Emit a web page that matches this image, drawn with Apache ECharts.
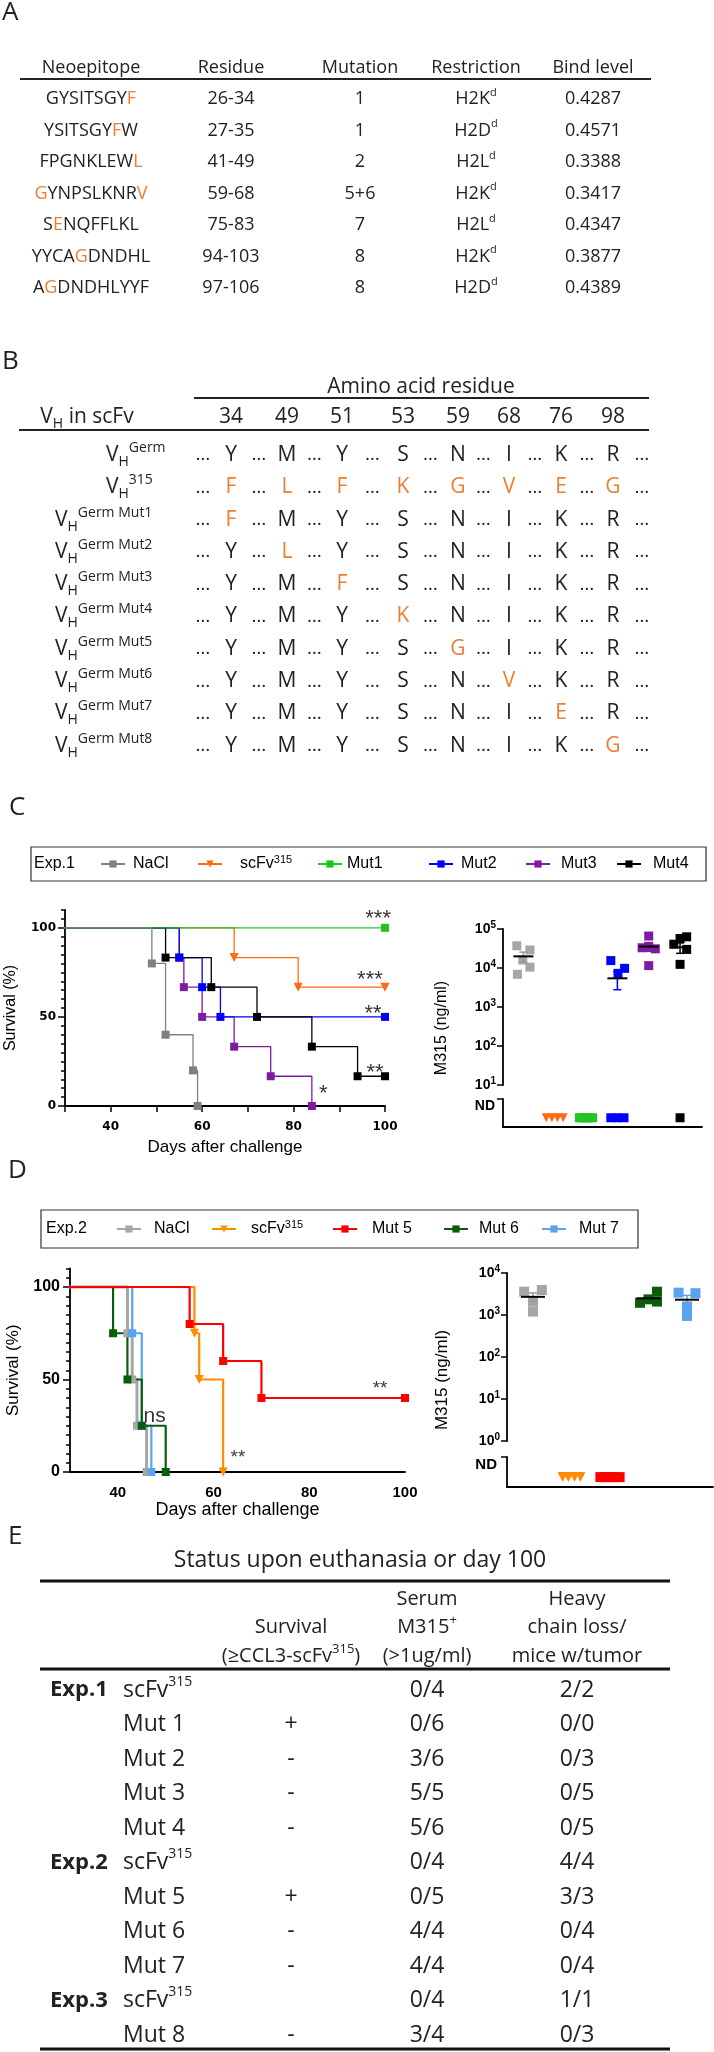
<!DOCTYPE html>
<html>
<head>
<meta charset="utf-8">
<script src="https://cdn.jsdelivr.net/npm/echarts@6.0.0/dist/echarts.min.js"></script>
<style>
html,body{margin:0;padding:0;background:#fff;}
#chart{width:714px;height:2052px;}
</style>
</head>
<body>
<div id="chart"></div>
<script>
// ===================== DATA =====================
// Panel A – neoepitopes
const neoHeaders = ['Neoepitope', 'Residue', 'Mutation', 'Restriction', 'Bind level'];
const neoSequences = ['GYSITSGYF', 'YSITSGYFW', 'FPGNKLEWL', 'GYNPSLKNRV', 'SENQFFLKL', 'YYCAGDNDHL', 'AGDNDHLYYF'];
const neoMutatedPositions = [[8], [7], [8], [0, 9], [1], [4], [1]];
const neoResidues = ['26-34', '27-35', '41-49', '59-68', '75-83', '94-103', '97-106'];
const neoMutations = ['1', '1', '2', '5+6', '7', '8', '8'];
const neoRestrictions = ['H2K', 'H2D', 'H2L', 'H2K', 'H2L', 'H2K', 'H2D'];
const neoRestrictionSup = 'd';
const neoBindLevels = [0.4287, 0.4571, 0.3388, 0.3417, 0.4347, 0.3877, 0.4389];

// Panel B – amino acid residues
const aaResidues = [34, 49, 51, 53, 59, 68, 76, 98];
const aaGerm = ['Y', 'M', 'Y', 'S', 'N', 'I', 'K', 'R'];
const aa315 = ['F', 'L', 'F', 'K', 'G', 'V', 'E', 'G'];
const vhLabels = ['Germ', '315', 'Germ Mut1', 'Germ Mut2', 'Germ Mut3', 'Germ Mut4', 'Germ Mut5', 'Germ Mut6', 'Germ Mut7', 'Germ Mut8'];
const vhMutated = [[], [0, 1, 2, 3, 4, 5, 6, 7], [0], [1], [2], [3], [4], [5], [6], [7]];

// Panel C – Exp.1 survival (day of event, % surviving after event)
const exp1NaClDays = [49, 52, 58, 59];        const exp1NaClSurv = [80, 40, 20, 0];
const exp1ScfvDays = [67, 81, 100];           const exp1ScfvSurv = [83.3, 66.7, 66.7];
const exp1Mut1Days = [100];                   const exp1Mut1Surv = [100];
const exp1Mut2Days = [55, 60, 64, 100];       const exp1Mut2Surv = [83.3, 66.7, 50, 50];
const exp1Mut3Days = [55, 56, 60, 67, 75, 84]; const exp1Mut3Surv = [83.3, 66.7, 50, 33.3, 16.7, 0];
const exp1Mut4Days = [52, 62, 72, 84, 94, 100]; const exp1Mut4Surv = [83.3, 66.7, 50, 33.3, 16.7, 16.7];
const exp1SigText = ['***', '***', '**', '**', '*'];
const exp1SigDay = [98.5, 96.7, 97.4, 97.8, 86.5];
const exp1SigSurv = [109, 74.7, 55.6, 22.5, 10.7];

// Panel C – Exp.1 serum M315 (ng/ml, 0 = not detected) and horizontal jitter
const exp1Groups = ['NaCl', 'scFv315', 'Mut1', 'Mut2', 'Mut3', 'Mut4'];
const exp1SerumNaCl = [37000, 29000, 16000, 10500, 6900];   const exp1JitNaCl = [-0.21, 0.21, -0.02, 0.21, -0.19];
const exp1SerumScfv = [0, 0, 0, 0];                          const exp1JitScfv = [-0.27, -0.09, 0.09, 0.27];
const exp1SerumMut1 = [0, 0, 0, 0, 0, 0];                    const exp1JitMut1 = [-0.21, -0.13, -0.04, 0.04, 0.13, 0.21];
const exp1SerumMut2 = [15500, 7300, 9800, 0, 0, 0];          const exp1JitMut2 = [-0.21, 0.02, 0.23, -0.21, 0, 0.21];
const exp1SerumMut3 = [66000, 33000, 31000, 36000, 11500];   const exp1JitMut3 = [0, -0.21, 0.21, 0, 0];
const exp1SerumMut4 = [63000, 57000, 40800, 30000, 12400, 0]; const exp1JitMut4 = [0.21, 0, -0.2, 0.21, 0, 0];

// Panel D – Exp.2 survival
const exp2NaClDays = [42, 43, 44, 46];   const exp2NaClSurv = [75, 50, 25, 0];
const exp2ScfvDays = [56, 57, 62];       const exp2ScfvSurv = [75, 50, 0];
const exp2Mut5Days = [55, 62, 70, 100];  const exp2Mut5Surv = [80, 60, 40, 40];
const exp2Mut6Days = [39, 42, 45, 50];   const exp2Mut6Surv = [75, 50, 25, 0];
const exp2Mut7Days = [43, 45, 47];       const exp2Mut7Surv = [75, 25, 0];
const exp2SigText = ['ns', '**', '**'];
const exp2SigDay = [47.7, 65.1, 94.8];
const exp2SigSurv = [30.2, 10.8, 48];

// Panel D – Exp.2 serum M315
const exp2Groups = ['NaCl', 'scFv315', 'Mut 5', 'Mut 6', 'Mut 7'];
const exp2SerumNaCl = [3590, 3940, 2090, 1210]; const exp2JitNaCl = [-0.23, 0.23, 0, 0];
const exp2SerumScfv = [0, 0, 0, 0];             const exp2JitScfv = [-0.23, -0.08, 0.08, 0.23];
const exp2SerumMut5 = [0, 0, 0, 0, 0];          const exp2JitMut5 = [-0.25, -0.12, 0, 0.12, 0.25];
const exp2SerumMut6 = [1950, 2360, 3590, 2090]; const exp2JitMut6 = [-0.22, 0, 0.22, 0.22];
const exp2SerumMut7 = [3400, 3300, 1600, 950];  const exp2JitMut7 = [-0.22, 0.22, 0, 0];

// Panel E – status table
const statusExp = ['Exp.1', '', '', '', '', 'Exp.2', '', '', '', 'Exp.3', ''];
const statusGroup = ['scFv315', 'Mut 1', 'Mut 2', 'Mut 3', 'Mut 4', 'scFv315', 'Mut 5', 'Mut 6', 'Mut 7', 'scFv315', 'Mut 8'];
const statusSurvival = ['', '+', '-', '-', '-', '', '+', '-', '-', '', '-'];
const statusSerum = ['0/4', '0/6', '3/6', '5/5', '5/6', '0/4', '0/5', '4/4', '4/4', '0/4', '3/4'];
const statusHeavy = ['2/2', '0/0', '0/3', '0/5', '0/5', '4/4', '3/3', '0/4', '0/4', '1/1', '0/3'];

// ===================== STYLE =====================
const OPEN = "'Open Sans', sans-serif";
const ARIAL = "'Liberation Sans', Arial, sans-serif";
const TXT = '#222';
const ORANGE = '#ED7D31';
const colC = {NaCl: '#808080', scfv: '#FF6A13', mut1: '#22C422', mut2: '#0000FF', mut3: '#7D1D9E', mut4: '#000000', naclDot: '#A6A6A6'};
const colD = {NaCl: '#A6A6A6', scfv: '#FF8C00', mut5: '#FF0000', mut6: '#0B5D0B', mut7: '#5AA3F0'};

const G = [];
function T(x, y, t, size, opt) {
  opt = opt || {};
  const st = {
    text: t, fontSize: size, fontFamily: opt.family || OPEN, fontWeight: opt.weight || 'normal',
    fill: opt.fill || TXT, align: opt.align || 'center', verticalAlign: 'middle',
    lineHeight: opt.lh || Math.round(size * 1.35)
  };
  if (opt.rich) st.rich = opt.rich;
  G.push({type: 'text', x: x, y: y, silent: true, z: 100, rotation: opt.rotation || 0, style: st});
}
function L(x1, y1, x2, y2, w, c) {
  G.push({type: 'line', silent: true, z: 100, shape: {x1: x1, y1: y1, x2: x2, y2: y2}, style: {stroke: c || '#222', lineWidth: w}});
}
function R(x, y, w, h) {
  G.push({type: 'rect', silent: true, z: 100, shape: {x: x, y: y, width: w, height: h}, style: {fill: 'none', stroke: '#333', lineWidth: 1.2}});
}
function tok(size, extra) {
  return Object.assign({fontSize: size, fontFamily: OPEN, fill: TXT, color: TXT}, extra || {});
}

// ---------- Panel letters ----------
T(2, 13, 'A', 26, {align: 'left'});
T(2, 362, 'B', 26, {align: 'left'});
T(9, 808, 'C', 26, {align: 'left'});
T(8, 1171, 'D', 26, {align: 'left'});
T(8, 1537, 'E', 26, {align: 'left'});

// ---------- Panel A ----------
const colA = [91, 231, 360, 476, 593];
const richA = {
  o: tok(18, {fill: ORANGE, color: ORANGE}),
  s: tok(11, {verticalAlign: 'top', lineHeight: 11})
};
neoHeaders.forEach((h, j) => T(colA[j], 68, h, 18));
L(20, 79, 651, 79, 2);
neoSequences.forEach((seq, i) => {
  const y = 99 + i * 31.5;
  const s = seq.split('').map((ch, k) => neoMutatedPositions[i].indexOf(k) >= 0 ? '{o|' + ch + '}' : ch).join('');
  T(colA[0], y, s, 18, {rich: richA, lh: 24});
  T(colA[1], y, neoResidues[i], 18);
  T(colA[2], y, neoMutations[i], 18);
  T(colA[3], y, neoRestrictions[i] + '{s|' + neoRestrictionSup + '}', 18, {rich: richA, lh: 24});
  T(colA[4], y, neoBindLevels[i].toFixed(4), 18);
});

// ---------- Panel B ----------
const colB = [231, 287, 342, 403, 458, 509, 561, 613];
const ellB = [colB[0] - 28].concat(colB.slice(1).map((x, j) => (x + colB[j]) / 2)).concat([colB[7] + 29]);
const richB = {
  h: tok(14, {verticalAlign: 'bottom', lineHeight: 12}),
  g: tok(14, {verticalAlign: 'top', lineHeight: 16})
};
T(421, 387, 'Amino acid residue', 21);
L(194, 398, 649, 398, 2);
T(87, 417, 'V{h|H} in scFv', 21, {rich: richB, lh: 28});
aaResidues.forEach((r, j) => T(colB[j], 417, String(r), 21));
L(19, 430, 649, 430, 2);
vhLabels.forEach((lab, i) => {
  const y = 455 + i * 32.3;
  T(i < 2 ? 106 : 55, y, 'V{h|H}{g|' + lab + '}', 21, {rich: richB, lh: 28, align: 'left'});
  aaGerm.forEach((g, j) => {
    const mut = vhMutated[i].indexOf(j) >= 0;
    T(colB[j], y, mut ? aa315[j] : g, 21, {fill: mut ? ORANGE : TXT});
  });
  ellB.forEach(x => T(x, y, '\u2026', 19));
});

// ---------- Panel E ----------
const richE = {s: tok(14, {verticalAlign: 'top', lineHeight: 14})};
const richEh = {s: tok(13, {verticalAlign: 'top', lineHeight: 13})};
T(360, 1560, 'Status upon euthanasia or day 100', 23);
L(40, 1581, 670, 1581, 3, '#111');
T(427, 1599, 'Serum', 20);
T(577, 1599, 'Heavy', 20);
T(291, 1627, 'Survival', 20);
T(427, 1627, 'M315{s|+}', 20, {rich: richEh, lh: 26});
T(577, 1627, 'chain loss/', 20);
T(291, 1656, '(\u2265CCL3-scFv{s|315})', 20, {rich: richEh, lh: 26});
T(427, 1656, '(>1ug/ml)', 20);
T(577, 1656, 'mice w/tumor', 20);
L(40, 1669, 670, 1669, 3, '#111');
statusGroup.forEach((g, i) => {
  const y = 1690 + i * 34.5;
  if (statusExp[i]) T(50, y, statusExp[i], 22, {align: 'left', weight: 'bold'});
  const gl = g === 'scFv315' ? 'scFv{s|315}' : g;
  T(123, y, gl, 23, {align: 'left', rich: richE, lh: 30});
  if (statusSurvival[i]) T(291, y, statusSurvival[i], 23);
  T(427, y, statusSerum[i], 23);
  T(577, y, statusHeavy[i], 23);
});
L(40, 2049, 670, 2049, 3, '#111');

// ---------- Legend boxes ----------
R(31, 847, 675, 34);
T(34, 864, 'Exp.1', 16, {align: 'left', family: ARIAL, fill: '#000'});
R(41, 1210, 597, 38);
T(46, 1229, 'Exp.2', 16, {align: 'left', family: ARIAL, fill: '#000'});

// ===================== CHART HELPERS =====================
function km(name, days, surv, color, tri, xi, yi, lw, size) {
  const data = [{value: [0, 100], symbol: 'none'}].concat(days.map((d, i) => [d, surv[i]]));
  return {
    type: 'line', name: name, xAxisIndex: xi, yAxisIndex: yi, step: 'end', data: data,
    symbol: tri ? 'triangle' : 'rect', symbolRotate: tri ? 180 : 0, symbolSize: size,
    showSymbol: true, showAllSymbol: true, clip: true,
    lineStyle: {color: color, width: lw}, itemStyle: {color: color},
    emphasis: {disabled: true}, silent: true
  };
}
const ND_LEVEL = 0.33;
function serum(key, values, jit, pos, color, tri, ux, uy, lx, ly, size) {
  const up = [], lo = [];
  values.forEach((v, i) => {
    if (v > 0) up.push([pos + jit[i], Math.log10(v)]);
    else lo.push([pos + jit[i], ND_LEVEL]);
  });
  const base = {type: 'scatter', symbol: tri ? 'triangle' : 'rect', symbolRotate: tri ? 180 : 0,
    symbolSize: size, itemStyle: {color: color, opacity: 1}, z: 3, silent: true, emphasis: {disabled: true}};
  return [
    Object.assign({}, base, {name: 'pts-up-' + key, xAxisIndex: ux, yAxisIndex: uy, data: up}),
    Object.assign({}, base, {name: 'pts-nd-' + key, xAxisIndex: lx, yAxisIndex: ly, data: lo})
  ];
}
function meanSem(vals) {
  const n = vals.length;
  const m = vals.reduce((a, b) => a + b, 0) / n;
  const sd = Math.sqrt(vals.reduce((a, b) => a + (b - m) * (b - m), 0) / (n - 1));
  return [m, sd / Math.sqrt(n)];
}
function statSeries(key, groups, colors, ux, uy, lx, ly, axisMin, half) {
  const upData = [], ndData = [];
  groups.forEach((vals, g) => {
    const ms = meanSem(vals);
    const pos = g + 1;
    if (ms[0] > 0) {
      const lowV = ms[0] - ms[1] > 0 ? Math.log10(ms[0] - ms[1]) : axisMin;
      upData.push({value: [pos, Math.log10(ms[0]), Math.log10(ms[0] + ms[1]), lowV], itemStyle: {color: colors[g]}});
    } else {
      ndData.push([pos, ND_LEVEL]);
    }
  });
  return [
    {type: 'custom', name: 'mean-' + key, xAxisIndex: ux, yAxisIndex: uy, z: 4, silent: true, data: upData,
      renderItem: function (params, api) {
        const x = api.value(0);
        const c = api.coord([x, api.value(1)]);
        const hi = api.coord([x, api.value(2)]);
        const lo = api.coord([x, api.value(3)]);
        const col = api.visual('color');
        const cap = 4;
        return {type: 'group', children: [
          {type: 'line', shape: {x1: c[0], y1: hi[1], x2: c[0], y2: lo[1]}, style: {stroke: col, lineWidth: 1.5}},
          {type: 'line', shape: {x1: c[0] - cap, y1: hi[1], x2: c[0] + cap, y2: hi[1]}, style: {stroke: col, lineWidth: 1.5}},
          {type: 'line', shape: {x1: c[0] - cap, y1: lo[1], x2: c[0] + cap, y2: lo[1]}, style: {stroke: col, lineWidth: 1.5}},
          {type: 'line', shape: {x1: c[0] - half, y1: c[1], x2: c[0] + half, y2: c[1]}, style: {stroke: '#000', lineWidth: 2}}
        ]};
      }},
    {type: 'custom', name: 'meanND-' + key, xAxisIndex: lx, yAxisIndex: ly, z: 2, silent: true, data: ndData,
      renderItem: function (params, api) {
        const c = api.coord([api.value(0), api.value(1)]);
        return {type: 'line', shape: {x1: c[0] - half, y1: c[1] - 2, x2: c[0] + half, y2: c[1] - 2}, style: {stroke: '#000', lineWidth: 1.5}};
      }}
  ];
}
function sigSeries(key, texts, days, surv, xi, yi, sizes) {
  return {type: 'scatter', name: 'sig-' + key, xAxisIndex: xi, yAxisIndex: yi, symbolSize: 0, silent: true, z: 6,
    data: texts.map((t, i) => ({value: [days[i], surv[i]], label: {formatter: t,
      fontSize: t === 'ns' ? sizes[1] : sizes[0], offset: [0, t === 'ns' ? 0 : Math.round(sizes[0] * 0.3)]}})),
    label: {show: true, position: 'inside', color: '#000', fontFamily: ARIAL}};
}
const axisLineBlack = {show: true, onZero: false, lineStyle: {color: '#000', width: 1.8}};
const tickBlack = {lineStyle: {color: '#000', width: 1.5}};
const logRichC = {b: {fontSize: 14, fontWeight: 'bold', fontFamily: ARIAL, color: '#000'},
  s: {fontSize: 10, fontWeight: 'bold', fontFamily: ARIAL, color: '#000', verticalAlign: 'top', lineHeight: 10}};

// ===================== AXES =====================
const xAxes = [
  // 0 C survival
  {gridIndex: 0, type: 'value', min: 30, max: 100, interval: 10, axisLine: axisLineBlack,
    axisTick: Object.assign({show: true, length: 6}, tickBlack), splitLine: {show: false},
    axisLabel: {formatter: v => (v >= 40 && v % 20 === 0) ? String(v) : '', fontWeight: 'bold', fontSize: 12, fontFamily: "'DejaVu Sans'", color: '#000', margin: 15},
    name: 'Days after challenge', nameLocation: 'middle', nameGap: 33, nameTextStyle: {fontSize: 17, fontFamily: ARIAL, color: '#000'}},
  // 1 C serum upper
  {gridIndex: 1, type: 'value', min: 0.35, max: 6.7, show: false},
  // 2 C serum lower
  {gridIndex: 2, type: 'value', min: 0.35, max: 6.7, axisLine: axisLineBlack, axisTick: {show: false}, axisLabel: {show: false}, splitLine: {show: false}},
  // 3 C serum title grid
  {gridIndex: 3, type: 'value', min: 0, max: 1, show: false},
  // 4 D survival
  {gridIndex: 4, type: 'value', min: 30, max: 100, interval: 10, axisLine: axisLineBlack,
    axisTick: {show: false}, splitLine: {show: false},
    axisLabel: {formatter: v => (v >= 40 && v % 20 === 0) ? String(v) : '', fontWeight: 'bold', fontSize: 15, fontFamily: ARIAL, color: '#000', margin: 13},
    name: 'Days after challenge', nameLocation: 'middle', nameGap: 27, nameTextStyle: {fontSize: 18, fontFamily: ARIAL, color: '#000'}},
  // 5 D serum upper
  {gridIndex: 5, type: 'value', min: 0.325, max: 5.675, show: false},
  // 6 D serum lower
  {gridIndex: 6, type: 'value', min: 0.325, max: 5.675, axisLine: axisLineBlack, axisTick: {show: false}, axisLabel: {show: false}, splitLine: {show: false}},
  // 7 D title grid
  {gridIndex: 7, type: 'value', min: 0, max: 1, show: false}
];
const yAxes = [
  // 0 C survival major
  {gridIndex: 0, type: 'value', position: 'left', min: 0, max: 110, interval: 50, axisLine: axisLineBlack,
    axisTick: Object.assign({show: true, length: 7, customValues: [0, 50, 100]}, tickBlack), splitLine: {show: false},
    axisLabel: {customValues: [0, 50, 100], formatter: v => v <= 100 ? String(v) : '', fontWeight: 'bold', fontSize: 12, fontFamily: "'DejaVu Sans'", color: '#000', margin: 9},
    name: 'Survival (%)', nameLocation: 'middle', nameGap: 46, nameTextStyle: {fontSize: 16, fontFamily: ARIAL, color: '#000'}},
  // 1 C survival minor ticks
  {gridIndex: 0, type: 'value', position: 'left', offset: 0, min: 0, max: 110, interval: 5, axisLine: {show: false, onZero: false},
    axisTick: Object.assign({show: true, length: 4}, tickBlack), axisLabel: {show: false}, splitLine: {show: false}},
  // 2 C serum upper (log10 scale)
  {gridIndex: 1, type: 'value', position: 'left', min: 1, max: 5, interval: 1, axisLine: axisLineBlack,
    axisTick: Object.assign({show: true, length: 6}, tickBlack), splitLine: {show: false},
    axisLabel: {formatter: v => '{b|10}{s|' + v + '}', rich: logRichC, margin: 7, lineHeight: 18}},
  // 3 C serum lower ND
  {gridIndex: 2, type: 'value', position: 'left', min: 0, max: 1, interval: 1, axisLine: axisLineBlack,
    axisTick: Object.assign({show: true, length: 6, customValues: [1]}, tickBlack), splitLine: {show: false},
    axisLabel: {customValues: [1], formatter: v => v === 1 ? 'ND' : '', verticalAlign: 'top', fontWeight: 'bold', fontSize: 14, fontFamily: ARIAL, color: '#000', margin: 8}},
  // 4 C serum title
  {gridIndex: 3, type: 'value', position: 'left', min: 0, max: 1, axisLine: {show: false}, axisTick: {show: false}, axisLabel: {show: false}, splitLine: {show: false},
    name: 'M315 (ng/ml)', nameLocation: 'middle', nameGap: 53, nameTextStyle: {fontSize: 16, fontFamily: ARIAL, color: '#000'}},
  // 5 D survival major
  {gridIndex: 4, type: 'value', position: 'left', min: 0, max: 110, interval: 50, axisLine: axisLineBlack,
    axisTick: Object.assign({show: true, length: 7, customValues: [0, 50, 100]}, tickBlack), splitLine: {show: false},
    axisLabel: {customValues: [0, 50, 100], formatter: v => v <= 100 ? String(v) : '', fontWeight: 'bold', fontSize: 16, fontFamily: ARIAL, color: '#000', margin: 10},
    name: 'Survival (%)', nameLocation: 'middle', nameGap: 48, nameTextStyle: {fontSize: 17, fontFamily: ARIAL, color: '#000'}},
  // 6 D survival minor
  {gridIndex: 4, type: 'value', position: 'left', offset: 0, min: 0, max: 110, interval: 5, axisLine: {show: false, onZero: false},
    axisTick: Object.assign({show: true, length: 4}, tickBlack), axisLabel: {show: false}, splitLine: {show: false}},
  // 7 D serum upper
  {gridIndex: 5, type: 'value', position: 'left', min: 0, max: 4, interval: 1, axisLine: axisLineBlack,
    axisTick: Object.assign({show: true, length: 6}, tickBlack), splitLine: {show: false},
    axisLabel: {formatter: v => '{b|10}{s|' + v + '}', rich: logRichC, margin: 7, lineHeight: 18}},
  // 8 D serum lower ND
  {gridIndex: 6, type: 'value', position: 'left', min: 0, max: 1, interval: 1, axisLine: axisLineBlack,
    axisTick: Object.assign({show: true, length: 6, customValues: [1]}, tickBlack), splitLine: {show: false},
    axisLabel: {customValues: [1], formatter: v => v === 1 ? 'ND' : '', verticalAlign: 'top', fontWeight: 'bold', fontSize: 15, fontFamily: ARIAL, color: '#000', margin: 10}},
  // 9 D serum title
  {gridIndex: 7, type: 'value', position: 'left', min: 0, max: 1, axisLine: {show: false}, axisTick: {show: false}, axisLabel: {show: false}, splitLine: {show: false},
    name: 'M315 (ng/ml)', nameLocation: 'middle', nameGap: 56, nameTextStyle: {fontSize: 17, fontFamily: ARIAL, color: '#000'}}
];

// ===================== SERIES =====================
const series = [
  // C survival (drawing order = stacking order)
  km('C:scFv315', exp1ScfvDays, exp1ScfvSurv, colC.scfv, true, 0, 0, 1.3, 9),
  km('C:Mut3', exp1Mut3Days, exp1Mut3Surv, colC.mut3, false, 0, 0, 1.3, 8),
  km('C:Mut2', exp1Mut2Days, exp1Mut2Surv, colC.mut2, false, 0, 0, 1.3, 8),
  km('C:Mut4', exp1Mut4Days, exp1Mut4Surv, colC.mut4, false, 0, 0, 1.3, 8),
  km('C:Mut1', exp1Mut1Days, exp1Mut1Surv, colC.mut1, false, 0, 0, 1.3, 8),
  km('C:NaCl', exp1NaClDays, exp1NaClSurv, colC.NaCl, false, 0, 0, 1.3, 8),
  sigSeries('C', exp1SigText, exp1SigDay, exp1SigSurv, 0, 0, [22, 22]),
  // D survival
  km('D:NaCl', exp2NaClDays, exp2NaClSurv, colD.NaCl, false, 4, 5, 3, 8),
  km('D:Mut 7', exp2Mut7Days, exp2Mut7Surv, colD.mut7, false, 4, 5, 2.2, 8),
  km('D:Mut 6', exp2Mut6Days, exp2Mut6Surv, colD.mut6, false, 4, 5, 2.2, 8),
  km('D:scFv315', exp2ScfvDays, exp2ScfvSurv, colD.scfv, true, 4, 5, 2.2, 9),
  km('D:Mut 5', exp2Mut5Days, exp2Mut5Surv, colD.mut5, false, 4, 5, 2.2, 8),
  sigSeries('D', exp2SigText, exp2SigDay, exp2SigSurv, 4, 5, [19, 21])
]
.concat(serum('c-nacl', exp1SerumNaCl, exp1JitNaCl, 1, colC.naclDot, false, 1, 2, 2, 3, 9))
.concat(serum('c-scfv', exp1SerumScfv, exp1JitScfv, 2, colC.scfv, true, 1, 2, 2, 3, 9))
.concat(serum('c-mut1', exp1SerumMut1, exp1JitMut1, 3, colC.mut1, false, 1, 2, 2, 3, 9))
.concat(serum('c-mut2', exp1SerumMut2, exp1JitMut2, 4, colC.mut2, false, 1, 2, 2, 3, 9))
.concat(serum('c-mut3', exp1SerumMut3, exp1JitMut3, 5, colC.mut3, false, 1, 2, 2, 3, 9))
.concat(serum('c-mut4', exp1SerumMut4, exp1JitMut4, 6, colC.mut4, false, 1, 2, 2, 3, 9))
.concat(statSeries('c', [exp1SerumNaCl, exp1SerumScfv, exp1SerumMut1, exp1SerumMut2, exp1SerumMut3, exp1SerumMut4],
  ['#999', colC.scfv, colC.mut1, colC.mut2, colC.mut3, colC.mut4], 1, 2, 2, 3, 1, 10))
.concat(serum('d-nacl', exp2SerumNaCl, exp2JitNaCl, 1, colD.NaCl, false, 5, 7, 6, 8, 10))
.concat(serum('d-scfv', exp2SerumScfv, exp2JitScfv, 2, colD.scfv, true, 5, 7, 6, 8, 10))
.concat(serum('d-mut5', exp2SerumMut5, exp2JitMut5, 3, colD.mut5, false, 5, 7, 6, 8, 10))
.concat(serum('d-mut6', exp2SerumMut6, exp2JitMut6, 4, colD.mut6, false, 5, 7, 6, 8, 10))
.concat(serum('d-mut7', exp2SerumMut7, exp2JitMut7, 5, colD.mut7, false, 5, 7, 6, 8, 10))
.concat(statSeries('d', [exp2SerumNaCl, exp2SerumScfv, exp2SerumMut5, exp2SerumMut6, exp2SerumMut7],
  ['#999', colD.scfv, colD.mut5, colD.mut6, colD.mut7], 5, 7, 6, 8, 0, 12));

// ===================== LEGENDS =====================
const legC = ['C:NaCl', 'C:scFv315', 'C:Mut1', 'C:Mut2', 'C:Mut3', 'C:Mut4'];
const legCx = [112, 209, 329, 440, 537, 628];
const legCpad = [3, 13, 0, 3, 6, 7];
const legD = ['D:NaCl', 'D:scFv315', 'D:Mut 5', 'D:Mut 6', 'D:Mut 7'];
const legDx = [128, 223, 344, 455, 553];
const legDpad = [8, 10, 10, 6, 8];
function legendItem(name, cx, pad, cy) {
  return {
    data: [name], left: cx - 12, top: cy - 10, itemWidth: 24, itemHeight: 9, padding: 0,
    selectedMode: false, orient: 'horizontal',
    formatter: n => { const s = n.slice(2); return s === 'scFv315' ? 'scFv{s|315}' : s; },
    textStyle: {fontSize: 16, fontFamily: ARIAL, color: '#000', lineHeight: 20, padding: [0, 0, 0, pad],
      rich: {s: {fontSize: 11, fontFamily: ARIAL, color: '#000', verticalAlign: 'top', lineHeight: 11}}}
  };
}
const legends = legC.map((n, i) => legendItem(n, legCx[i], legCpad[i], 864))
  .concat(legD.map((n, i) => legendItem(n, legDx[i], legDpad[i], 1229)));

const gridBase = {outerBoundsMode: 'none', containLabel: false};
const option = {
  backgroundColor: '#ffffff',
  animation: false,
  textStyle: {fontFamily: ARIAL},
  grid: [
    {left: 65, top: 910, width: 320, height: 196},
    {left: 503, top: 929, width: 199, height: 156},
    {left: 503, top: 1099, width: 199, height: 28},
    {left: 503, top: 929, width: 199, height: 198},
    {left: 70, top: 1268.5, width: 335, height: 203.5},
    {left: 507, top: 1273, width: 206, height: 168},
    {left: 507, top: 1457, width: 206, height: 30},
    {left: 507, top: 1273, width: 206, height: 214}
  ].map(g => Object.assign({}, gridBase, g)),
  xAxis: xAxes,
  yAxis: yAxes,
  legend: legends,
  series: series,
  graphic: {elements: G}
};
const chart = echarts.init(document.getElementById('chart'), null, {renderer: 'canvas', width: 714, height: 2052});
chart.setOption(option);
</script>
</body>
</html>
